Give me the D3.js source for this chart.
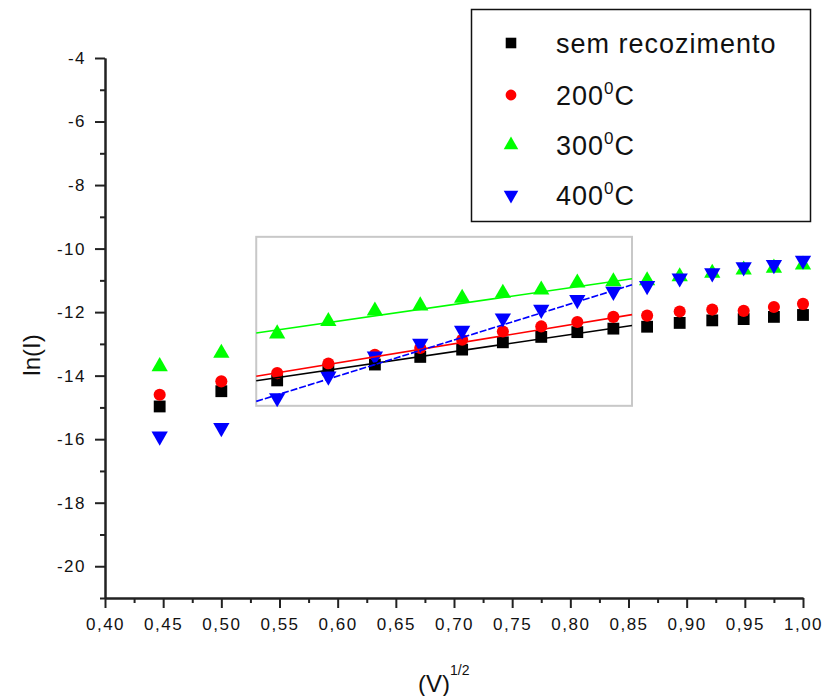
<!DOCTYPE html>
<html>
<head>
<meta charset="utf-8">
<script src="https://cdn.jsdelivr.net/npm/d3@7"></script>
<style>
  body { margin: 0; background: #fff; }
  text { font-family: "Liberation Sans", Arial, sans-serif; }
</style>
</head>
<body>
<svg id="chart" width="823" height="696"></svg>
<script>
// x = V^(1/2)
const sqrtV = [0.447, 0.500, 0.548, 0.592, 0.632, 0.671, 0.707, 0.742, 0.775, 0.806, 0.837, 0.866, 0.894, 0.922, 0.949, 0.975, 1.000];

// ln(I) for each annealing condition
const semRecozimento = [-14.97, -14.49, -14.15, -13.81, -13.65, -13.41, -13.18, -12.95, -12.78, -12.63, -12.52, -12.46, -12.34, -12.26, -12.22, -12.15, -12.09];
const t200 = [-14.60, -14.18, -13.92, -13.62, -13.34, -13.13, -12.87, -12.61, -12.45, -12.31, -12.15, -12.11, -11.98, -11.92, -11.96, -11.84, -11.74];
const t300 = [-13.71, -13.29, -12.68, -12.29, -11.96, -11.80, -11.56, -11.40, -11.30, -11.08, -11.04, -11.01, -10.88, -10.77, -10.67, -10.61, -10.51];
const t400 = [-15.91, -15.64, -14.70, -14.02, -13.39, -12.99, -12.58, -12.19, -11.92, -11.61, -11.35, -11.17, -10.93, -10.77, -10.58, -10.51, -10.37];

// linear fits, drawn over the fit window only
const fitX = [0.53, 0.853];
const fitSem = [-14.16, -12.42];
const fit200 = [-14.02, -12.08];
const fit300 = [-12.66, -10.95];
const fit400 = [-14.81, -11.14];

// grey box marking the fit window
const boxX = [0.53, 0.853];
const boxY = [-9.63, -14.95];

const legendLabels = ["sem recozimento", "200", "300", "400"];
const xTicks = [0.40, 0.45, 0.50, 0.55, 0.60, 0.65, 0.70, 0.75, 0.80, 0.85, 0.90, 0.95, 1.00];
const yTicks = [-20, -18, -16, -14, -12, -10, -8, -6, -4];

const series = [
  { name: legendLabels[0], values: semRecozimento, fit: fitSem, color: "#000000", symbol: d3.symbolSquare, size: 140, rot: 0, deg: false },
  { name: legendLabels[1], values: t200, fit: fit200, color: "#ff0000", symbol: d3.symbolCircle, size: 115, rot: 0, deg: true },
  { name: legendLabels[2], values: t300, fit: fit300, color: "#00ff00", symbol: d3.symbolTriangle, size: 115, rot: 0, deg: true },
  { name: legendLabels[3], values: t400, fit: fit400, color: "#0000ff", symbol: d3.symbolTriangle, size: 115, rot: 180, deg: true }
];

const svg = d3.select("#chart");

const x = d3.scaleLinear().domain([0.40, 1.00]).range([105, 803]);
const y = d3.scaleLinear().domain([-21, -4]).range([598, 58]);

const loc = d3.formatLocale({ decimal: ",", thousands: ".", grouping: [3], currency: ["", ""], minus: "-" });
const fmtX = loc.format(".2f");
const fmtY = loc.format("d");

// fit window box
svg.append("rect")
  .attr("x", x(boxX[0]))
  .attr("y", y(boxY[0]))
  .attr("width", x(boxX[1]) - x(boxX[0]))
  .attr("height", y(boxY[1]) - y(boxY[0]))
  .attr("fill", "none")
  .attr("stroke", "#c8c8c8")
  .attr("stroke-width", 2);

// points
series.forEach(s => {
  svg.append("g")
    .selectAll("path")
    .data(s.values)
    .join("path")
    .attr("d", d3.symbol().type(s.symbol).size(s.size))
    .attr("transform", (d, i) => "translate(" + x(sqrtV[i]) + "," + y(d) + ") rotate(" + s.rot + ")")
    .attr("fill", s.color);
});

// fit lines
series.forEach(s => {
  svg.append("line")
    .attr("x1", x(fitX[0])).attr("y1", y(s.fit[0]))
    .attr("x2", x(fitX[1])).attr("y2", y(s.fit[1]))
    .attr("stroke", s.color)
    .attr("stroke-width", 1.6)
    .attr("stroke-dasharray", s.rot ? "7,2" : null);
});

// axes
function styleAxis(g) {
  g.select(".domain").attr("stroke", "#222").attr("stroke-width", 2);
  g.selectAll(".tick line").attr("stroke", "#222").attr("stroke-width", 2);
  g.selectAll(".tick text")
    .attr("fill", "#111")
    .style("font-size", "17px")
    .style("letter-spacing", "1.5px");
}

svg.append("g")
  .attr("transform", "translate(0,598)")
  .call(d3.axisBottom(x).tickValues(d3.range(0.425, 1.0, 0.05)).tickSize(5).tickSizeOuter(0).tickFormat(""))
  .call(styleAxis);

svg.append("g")
  .attr("transform", "translate(0,598)")
  .call(d3.axisBottom(x).tickValues(xTicks).tickSize(10).tickSizeOuter(0).tickPadding(10).tickFormat(fmtX))
  .call(styleAxis);

svg.append("g")
  .attr("transform", "translate(105,0)")
  .call(d3.axisLeft(y).tickValues(d3.range(-21, -4, 2)).tickSize(5).tickSizeOuter(0).tickFormat(""))
  .call(styleAxis);

svg.append("g")
  .attr("transform", "translate(105,0)")
  .call(d3.axisLeft(y).tickValues(yTicks).tickSize(10).tickSizeOuter(0).tickPadding(9).tickFormat(fmtY))
  .call(styleAxis);

// axis titles
svg.append("text")
  .attr("transform", "translate(40,355) rotate(-90)")
  .attr("text-anchor", "middle")
  .style("font-size", "24px")
  .attr("fill", "#111")
  .text("ln(I)");

let xt = svg.append("text")
  .attr("x", 418)
  .attr("y", 692)
  .style("font-size", "24px")
  .attr("fill", "#111");
xt.append("tspan").text("(V)");
xt.append("tspan").attr("dy", -17).style("font-size", "14px").text("1/2");

// legend
svg.append("rect")
  .attr("x", 471.5).attr("y", 9.5)
  .attr("width", 339).attr("height", 212)
  .attr("fill", "#fff")
  .attr("stroke", "#111")
  .attr("stroke-width", 1.5);

const legendRows = [43, 95, 145, 195];
series.forEach((s, i) => {
  svg.append("path")
    .attr("d", d3.symbol().type(s.symbol).size(s.size * 0.8))
    .attr("transform", "translate(511," + legendRows[i] + ") rotate(" + s.rot + ")")
    .attr("fill", s.color);

  let t = svg.append("text")
    .attr("x", 556)
    .attr("y", legendRows[i] + 10)
    .style("font-size", "27px")
    .style("letter-spacing", "1px")
    .attr("fill", "#111");
  if (s.deg) {
    t.append("tspan").text(s.name);
    t.append("tspan").attr("dy", -11).style("font-size", "17px").text("0");
    t.append("tspan").attr("dy", 11).text("C");
  } else {
    t.text(s.name);
  }
});
</script>
</body>
</html>
